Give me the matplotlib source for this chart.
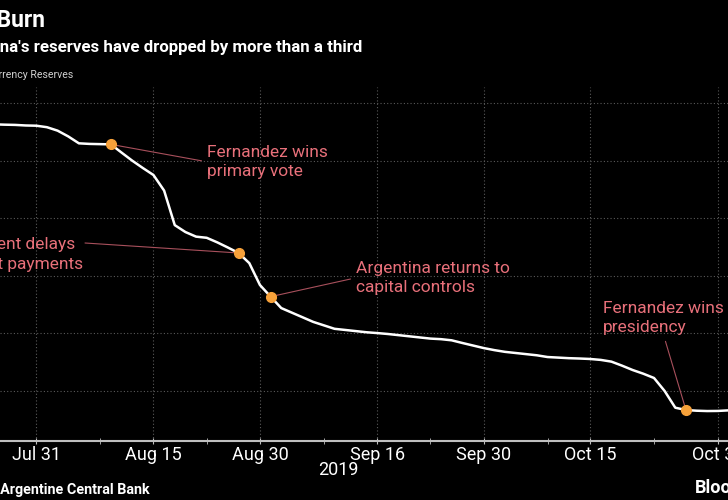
import numpy as np
import matplotlib
matplotlib.use("Agg")
import matplotlib.pyplot as plt

# Argentine business days (Aug 19 and Oct 14 2019 were holidays)
days = np.arange(np.datetime64('2019-07-25'), np.datetime64('2019-11-02'))
days = days[np.is_busday(days, holidays=['2019-08-19', '2019-10-14'])]

# foreign currency reserves, billions of USD
reserves = [68.15, 68.12, 68.10, 68.05, 68.03, 67.90, 67.60, 67.10, 66.50, 66.45,
            66.43, 66.41, 65.70, 65.00, 64.36, 63.75, 62.40, 59.40, 58.80, 58.40,
            58.30, 57.90, 57.45, 56.98, 56.10, 54.20, 53.19, 52.20, 51.80, 51.40,
            51.00, 50.70, 50.40, 50.30, 50.20, 50.10, 50.03, 49.95, 49.85, 49.75,
            49.65, 49.55, 49.50, 49.40, 49.17, 48.95, 48.73, 48.55, 48.40, 48.30,
            48.20, 48.10, 47.95, 47.90, 47.85, 47.82, 47.78, 47.70, 47.55, 47.20,
            46.82, 46.50, 46.13, 45.00, 43.55, 43.35, 43.29, 43.26, 43.27, 43.32]

major_dates = ['2019-07-31', '2019-08-15', '2019-08-30', '2019-09-16',
               '2019-09-30', '2019-10-15', '2019-10-31']
major_labels = ['Jul 31', 'Aug 15', 'Aug 30', 'Sep 16', 'Sep 30', 'Oct 15', 'Oct 31']
minor_dates = ['2019-08-08', '2019-08-23', '2019-09-09', '2019-09-23',
               '2019-10-08', '2019-10-23']

event_dates = ['2019-08-09', '2019-08-28', '2019-09-02', '2019-10-28']

W, H = 728, 500
pink = '#e8707a'
lead = '#a8505c'
orange = '#f7a13a'
font = 'Roboto'

x = np.arange(len(days))
pos = lambda d: int(np.searchsorted(days, np.datetime64(d)))

fig = plt.figure(figsize=(W / 100, H / 100), dpi=100, facecolor='black')
ax = fig.add_axes([0, 59 / H, 1, (441 - 87) / H])
ax.set_facecolor('black')

# pixel mapping: Jul 31 at 36.3 px, 10.65 px per business day
x0 = pos('2019-07-31')
ax.set_xlim(x0 - 36.3 / 10.65, x0 + (W - 36.3) / 10.65)
ax.set_ylim(40.66, 71.39)

ax.plot(x, reserves, color='white', lw=1.8, zorder=3)
ev = [pos(d) for d in event_dates]
ax.plot(ev, [reserves[i] for i in ev], 'o', color=orange, ms=7, zorder=4)

ax.set_yticks([45, 50, 55, 60, 65, 70])
ax.set_xticks([pos(d) for d in major_dates])
ax.set_xticklabels(major_labels, fontsize=13, color='white', family=font)
ax.set_xticks([pos(d) for d in minor_dates], minor=True)
ax.tick_params(axis='y', left=False, labelleft=False)
ax.tick_params(axis='x', which='both', direction='inout', length=5, color='#bfbfbf', pad=1)
ax.grid(True, which='major', color='#5a5a5a', ls=(0, (1, 2)), lw=0.8)
for s in ['top', 'right', 'left']:
    ax.spines[s].set_visible(False)
ax.spines['bottom'].set_color('#bfbfbf')
ax.spines['bottom'].set_linewidth(1.5)

fp = lambda px, py: (px, H - py)
ann = dict(textcoords='figure pixels', color=pink, fontsize=12.5, family=font,
           linespacing=1.3, annotation_clip=False)
ax.annotate('Fernandez wins\nprimary vote', xy=(ev[0], reserves[ev[0]]), xytext=fp(207, 145),
            ha='left', va='top',
            arrowprops=dict(arrowstyle='-', color=lead, lw=0.8, relpos=(0, 0.5), shrinkA=2, shrinkB=3),
            **ann)
ax.annotate('Argentina returns to\ncapital controls', xy=(ev[2], reserves[ev[2]]), xytext=fp(356, 261),
            ha='left', va='top',
            arrowprops=dict(arrowstyle='-', color=lead, lw=0.8, relpos=(0, 0.5), shrinkA=2, shrinkB=3),
            **ann)
ax.annotate('Fernandez wins\npresidency', xy=(ev[3], reserves[ev[3]]), xytext=fp(603, 301),
            ha='left', va='top',
            arrowprops=dict(arrowstyle='-', color=lead, lw=0.8, relpos=(0.5, 0), shrinkA=3, shrinkB=3),
            **ann)
ax.annotate('', xy=(ev[1], reserves[ev[1]]), xytext=fp(85, 243),
            arrowprops=dict(arrowstyle='-', color=lead, lw=0.8, shrinkA=0, shrinkB=3),
            textcoords='figure pixels', annotation_clip=False)
fig.text(75 / W, 1 - 244 / H, 'Government delays', color=pink, fontsize=12.5, family=font,
         ha='right', va='center')
fig.text(83 / W, 1 - 265 / H, 'debt payments', color=pink, fontsize=12.5, family=font,
         ha='right', va='center')

# titles, partly cut off at the left like the reference
fig.text(45 / W, 1 - 27 / H, 'Cash Burn', color='white', fontsize=16.5, fontweight='bold',
         family=font, ha='right', va='baseline')
fig.text(362 / W, 1 - 52 / H, "Argentina's reserves have dropped by more than a third",
         color='white', fontsize=12.2, fontweight='bold', family=font, ha='right', va='baseline')
fig.text(73 / W, 1 - 78 / H, 'Foreign Currency Reserves', color='#d0d0d0', fontsize=7.6,
         family=font, ha='right', va='baseline')
fig.text(338 / W, 1 - 470 / H, '2019', color='white', fontsize=13, family=font,
         ha='center', va='center')
fig.text(150 / W, 1 - 490 / H, 'Source: Argentine Central Bank', color='white', fontsize=10.4,
         fontweight='bold', family=font, ha='right', va='center')
fig.text(695 / W, 1 - 488 / H, 'Bloomberg', color='white', fontsize=13, fontweight='bold',
         family=font, ha='left', va='center')

fig.savefig('out.png', dpi=100, facecolor='black')
